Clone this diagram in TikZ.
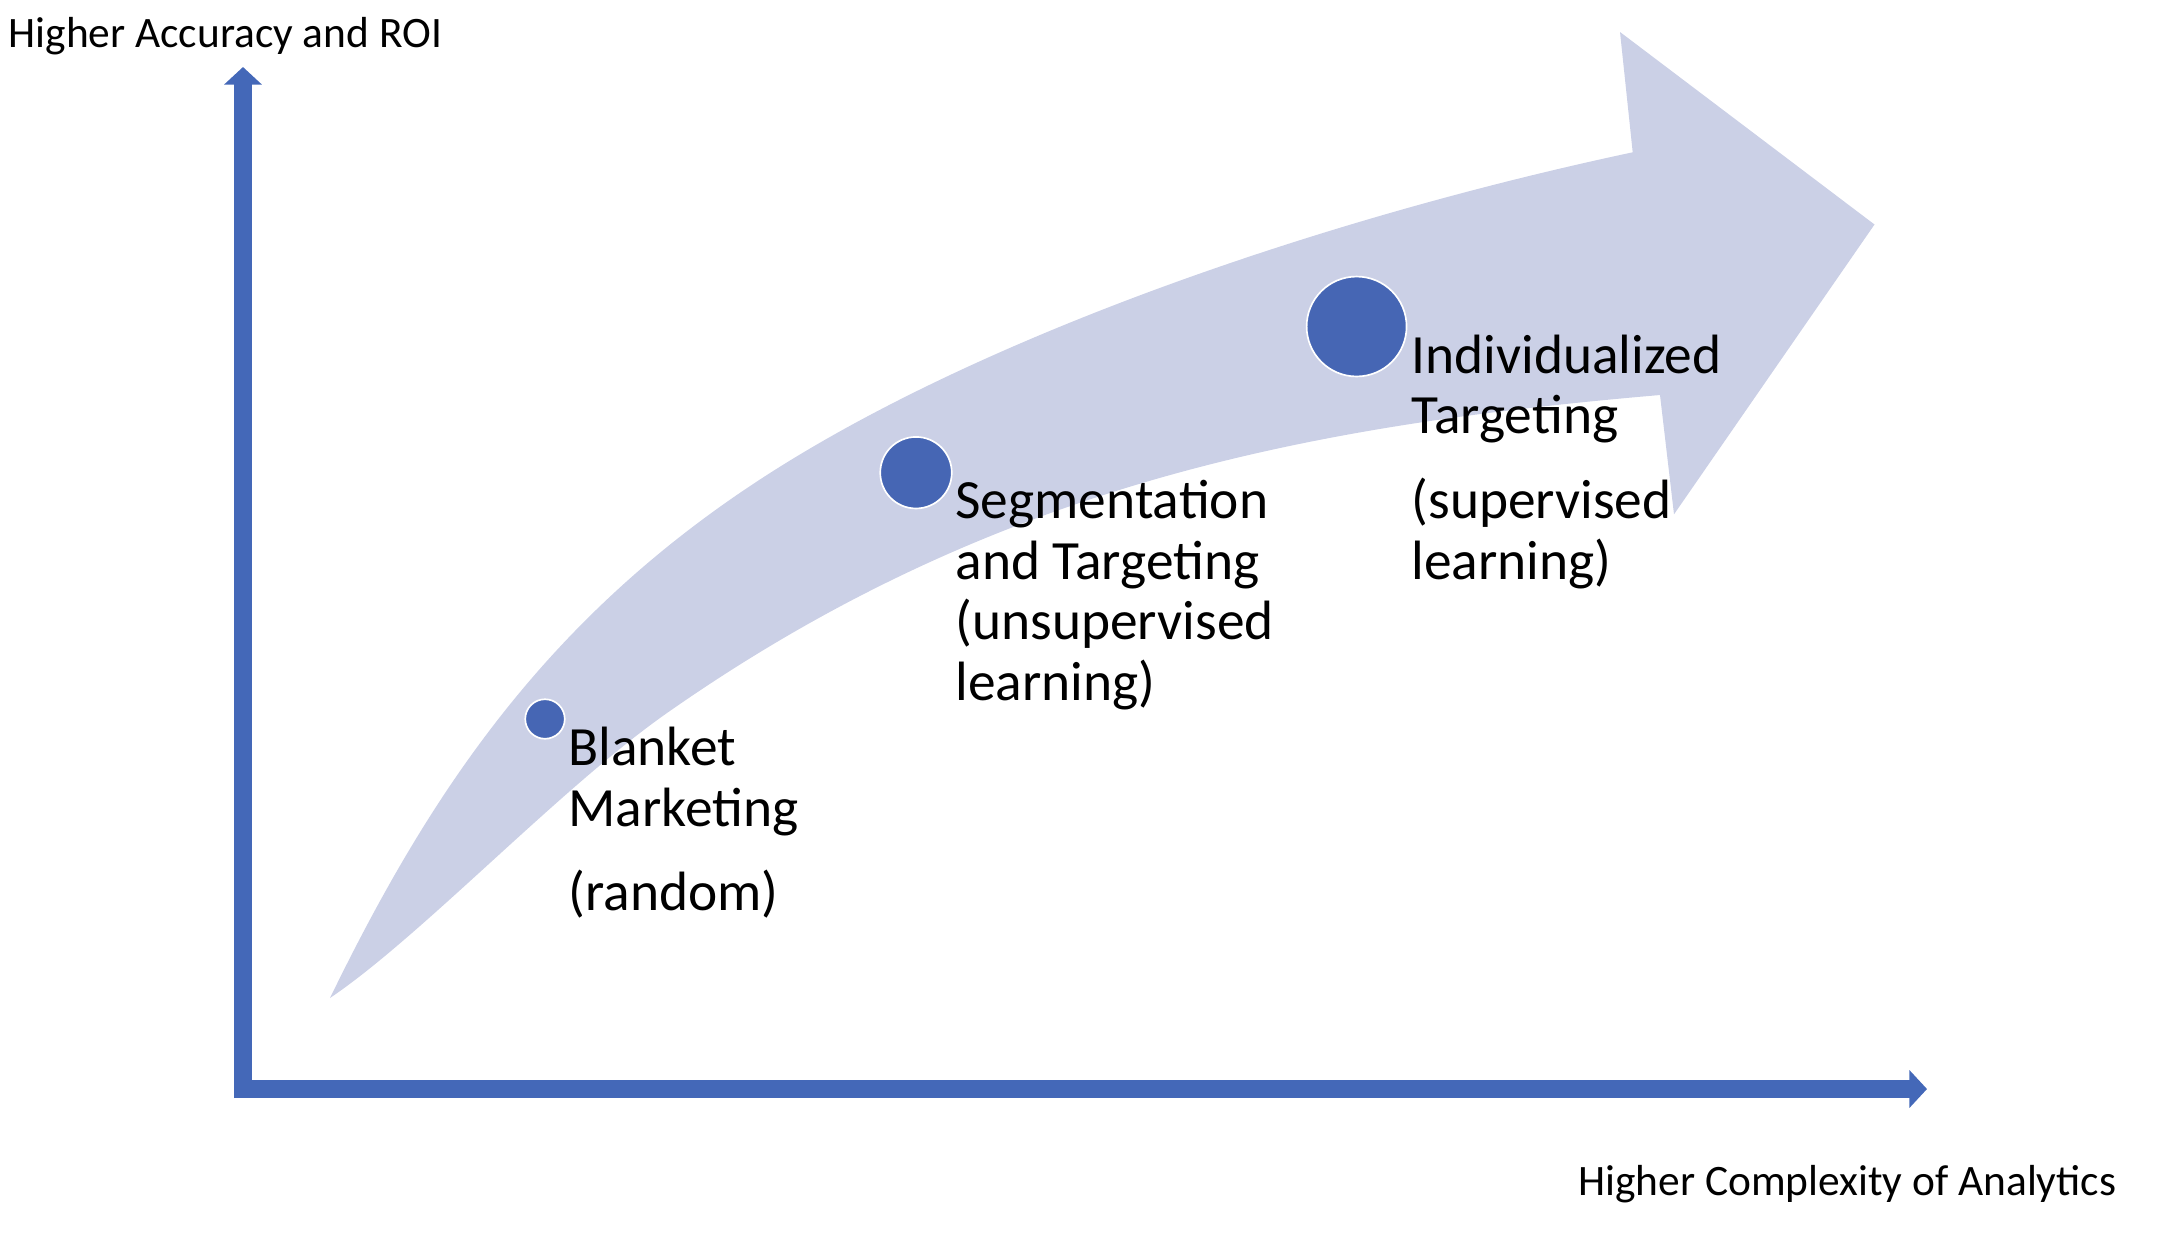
\documentclass[tikz,border=0pt]{standalone}
\usepackage{fontspec}
\setmainfont{Carlito}
\usetikzlibrary{arrows.meta}
\definecolor{axisblue}{HTML}{4468B8}
\definecolor{bandfill}{HTML}{CBD0E6}
\definecolor{dotblue}{HTML}{4666B4}
\begin{document}
\begin{tikzpicture}[x=0.35926pt,y=-0.35926pt,
  axisarrow/.style={line width=6.2pt, draw=axisblue, -{Triangle[length=6.3pt,width=13.2pt]}},
  dot/.style={circle, fill=dotblue, draw=white, line width=0.6pt, inner sep=0pt},
  lbl/.style={align=left, inner sep=0pt, font=\fontsize{19.9}{21.8}\selectfont},
  axislbl/.style={inner sep=0pt, font=\fontsize{15.6}{18}\selectfont}]
\useasboundingbox (0,0) rectangle (2160,1246);
% curved band arrow
\fill[bandfill] (330,998)
  .. controls (431.6,789.4) and (551,609.8) .. (780,466.7)
  .. controls (1001.3,328.4) and (1336.4,215.3) .. (1632.7,152.3)
  -- (1620,32) -- (1874.5,224.5) -- (1674,514.3) -- (1660,395)
  .. controls (1311,425) and (994.6,483.4) .. (667,713)
  .. controls (560.5,787.6) and (421.2,936.5) .. (330,998) -- cycle;
% axes
\coordinate (yb) at (243,1098);
\coordinate (yt) at (243,67);
\coordinate (xl) at (234,1089);
\coordinate (xr) at (1927,1089);
\draw[axisarrow] (yb) -- (yt);
\draw[axisarrow] (xl) -- (xr);
% dots
\node[dot, minimum size=14.2pt] (c1) at (545,719) {};
\node[dot, minimum size=25.7pt] (c2) at (916,472.7) {};
\node[dot, minimum size=35.9pt] (c3) at (1356.6,326.5) {};
% labels
\node[lbl, anchor=base west] (t1) at (568,910) {Blanket\\Marketing\\[8.3pt](random)};
\node[lbl, anchor=base west] (t2) at (955,700.5) {Segmentation\\and Targeting\\(unsupervised\\learning)};
\node[lbl, anchor=base west] (t3) at (1411,579) {Individualized\\Targeting\\[8.6pt](supervised\\learning)};
\node[axislbl, anchor=base west] (ylab) at (8,47.5) {Higher Accuracy and ROI};
\node[axislbl, anchor=base east] (xlab) at (2117,1195) {Higher Complexity of Analytics};
\end{tikzpicture}
\end{document}
